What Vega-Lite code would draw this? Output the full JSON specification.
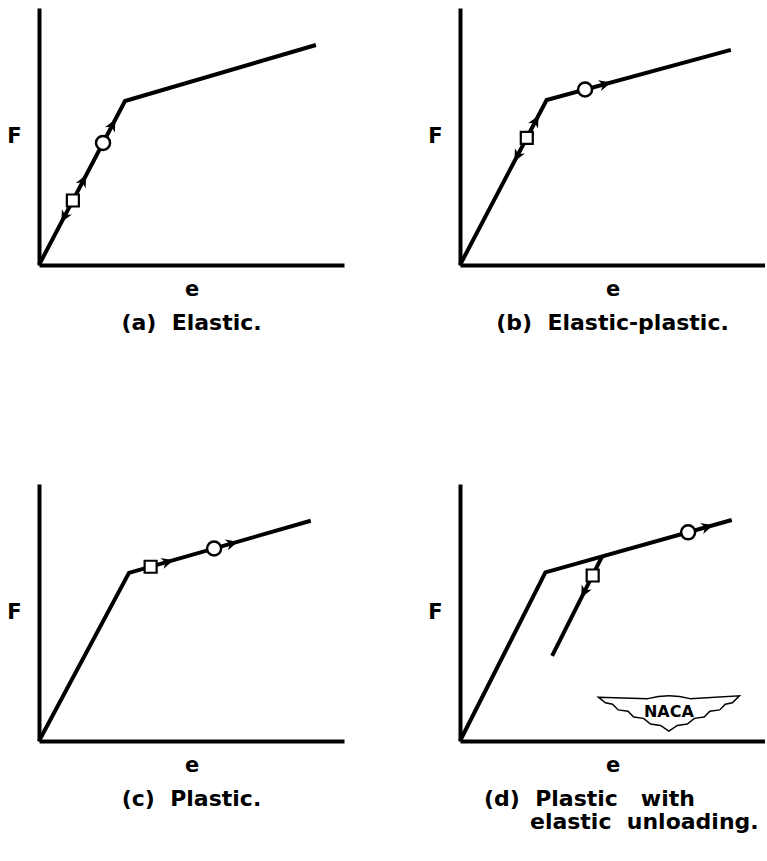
{
  "$schema": "https://vega.github.io/schema/vega-lite/v6.json",
  "background": "white",
  "padding": {"left": 6, "top": 8, "right": 0, "bottom": 5},
  "config": {
    "view": {"stroke": null},
    "axis": {"domainColor": "black", "domainWidth": 4, "ticks": false, "labels": false, "grid": false, "titleFont": "DejaVu Sans", "titleFontSize": 21, "titleFontWeight": "bold", "titleColor": "black"},
    "axisY": {"titleAngle": 0, "titleAlign": "right", "titleBaseline": "middle", "titlePadding": 18},
    "axisX": {"titleBaseline": "alphabetic", "titlePadding": 30},
    "title": {"orient": "bottom", "frame": "group", "anchor": "middle", "font": "DejaVu Sans", "fontSize": 22, "fontWeight": "bold", "color": "black", "offset": 14, "lineHeight": 23}
  },
  "spacing": 150,
  "vconcat": [
    {
      "spacing": 83,
      "hconcat": [
        {
          "width": 305, "height": 257,
          "title": {"text": "(a)\u00a0 Elastic."},
          "data": {"values": [
            {"kind": "path", "e": 0, "F": 0},
            {"kind": "path", "e": 28.2, "F": 63.8},
            {"kind": "path", "e": 90.8, "F": 85.6},
            {"kind": "circle", "e": 21.0, "F": 47.5},
            {"kind": "square", "e": 11.1, "F": 25.1},
            {"kind": "load", "e": 24.0, "F": 54.3},
            {"kind": "load", "e": 14.4, "F": 32.6},
            {"kind": "unload", "e": 8.4, "F": 19.0}
          ]},
          "encoding": {
            "x": {"field": "e", "type": "quantitative", "scale": {"domain": [0, 100], "nice": false}, "axis": {"title": "e"}},
            "y": {"field": "F", "type": "quantitative", "scale": {"domain": [0, 100], "nice": false}, "axis": {"title": "F"}}
          },
          "layer": [
            {"transform": [{"filter": "datum.kind === 'path'"}], "mark": {"type": "line", "color": "black", "strokeWidth": 4}},
            {"transform": [{"filter": "datum.kind === 'load'"}], "mark": {"type": "point", "shape": "M0,-1L0.8,0.7L0,0.2L-0.8,0.7Z", "filled": true, "color": "black", "opacity": 1, "size": 196, "angle": 27.7}},
            {"transform": [{"filter": "datum.kind === 'unload'"}], "mark": {"type": "point", "shape": "M0,-1L0.8,0.7L0,0.2L-0.8,0.7Z", "filled": true, "color": "black", "opacity": 1, "size": 196, "angle": 207.7}},
            {"transform": [{"filter": "datum.kind === 'circle'"}], "mark": {"type": "point", "shape": "circle", "fill": "white", "stroke": "black", "strokeWidth": 2.5, "opacity": 1, "size": 196}},
            {"transform": [{"filter": "datum.kind === 'square'"}], "mark": {"type": "point", "shape": "square", "fill": "white", "stroke": "black", "strokeWidth": 2.2, "opacity": 1, "size": 144}}
          ]
        },
        {
          "width": 305, "height": 257,
          "title": {"text": "(b)\u00a0 Elastic-plastic."},
          "data": {"values": [
            {"kind": "path", "e": 0, "F": 0},
            {"kind": "path", "e": 28.4, "F": 64.2},
            {"kind": "path", "e": 88.8, "F": 83.7},
            {"kind": "circle", "e": 41.0, "F": 68.3},
            {"kind": "square", "e": 21.9, "F": 49.5},
            {"kind": "load", "e": 24.7, "F": 55.8},
            {"kind": "unload", "e": 18.9, "F": 42.7},
            {"kind": "plastic", "e": 47.3, "F": 70.3}
          ]},
          "encoding": {
            "x": {"field": "e", "type": "quantitative", "scale": {"domain": [0, 100], "nice": false}, "axis": {"title": "e"}},
            "y": {"field": "F", "type": "quantitative", "scale": {"domain": [0, 100], "nice": false}, "axis": {"title": "F"}}
          },
          "layer": [
            {"transform": [{"filter": "datum.kind === 'path'"}], "mark": {"type": "line", "color": "black", "strokeWidth": 4}},
            {"transform": [{"filter": "datum.kind === 'load'"}], "mark": {"type": "point", "shape": "M0,-1L0.8,0.7L0,0.2L-0.8,0.7Z", "filled": true, "color": "black", "opacity": 1, "size": 196, "angle": 27.7}},
            {"transform": [{"filter": "datum.kind === 'unload'"}], "mark": {"type": "point", "shape": "M0,-1L0.8,0.7L0,0.2L-0.8,0.7Z", "filled": true, "color": "black", "opacity": 1, "size": 196, "angle": 207.7}},
            {"transform": [{"filter": "datum.kind === 'plastic'"}], "mark": {"type": "point", "shape": "M0,-1L0.8,0.7L0,0.2L-0.8,0.7Z", "filled": true, "color": "black", "opacity": 1, "size": 196, "angle": 74.8}},
            {"transform": [{"filter": "datum.kind === 'circle'"}], "mark": {"type": "point", "shape": "circle", "fill": "white", "stroke": "black", "strokeWidth": 2.5, "opacity": 1, "size": 196}},
            {"transform": [{"filter": "datum.kind === 'square'"}], "mark": {"type": "point", "shape": "square", "fill": "white", "stroke": "black", "strokeWidth": 2.2, "opacity": 1, "size": 144}}
          ]
        }
      ]
    },
    {
      "spacing": 83,
      "hconcat": [
        {
          "width": 305, "height": 257,
          "title": {"text": "(c)\u00a0 Plastic."},
          "data": {"values": [
            {"kind": "path", "e": 0, "F": 0},
            {"kind": "path", "e": 29.5, "F": 65.4},
            {"kind": "path", "e": 89.1, "F": 85.7},
            {"kind": "square", "e": 36.6, "F": 67.8},
            {"kind": "circle", "e": 57.4, "F": 74.9},
            {"kind": "plastic", "e": 41.9, "F": 69.6},
            {"kind": "plastic", "e": 63.0, "F": 76.8}
          ]},
          "encoding": {
            "x": {"field": "e", "type": "quantitative", "scale": {"domain": [0, 100], "nice": false}, "axis": {"title": "e"}},
            "y": {"field": "F", "type": "quantitative", "scale": {"domain": [0, 100], "nice": false}, "axis": {"title": "F"}}
          },
          "layer": [
            {"transform": [{"filter": "datum.kind === 'path'"}], "mark": {"type": "line", "color": "black", "strokeWidth": 4}},
            {"transform": [{"filter": "datum.kind === 'plastic'"}], "mark": {"type": "point", "shape": "M0,-1L0.8,0.7L0,0.2L-0.8,0.7Z", "filled": true, "color": "black", "opacity": 1, "size": 196, "angle": 74.0}},
            {"transform": [{"filter": "datum.kind === 'circle'"}], "mark": {"type": "point", "shape": "circle", "fill": "white", "stroke": "black", "strokeWidth": 2.5, "opacity": 1, "size": 196}},
            {"transform": [{"filter": "datum.kind === 'square'"}], "mark": {"type": "point", "shape": "square", "fill": "white", "stroke": "black", "strokeWidth": 2.2, "opacity": 1, "size": 144}}
          ]
        },
        {
          "width": 305, "height": 257,
          "title": {"text": ["(d)\u00a0 Plastic\u00a0\u00a0 with", "\u200b\u00a0\u00a0\u00a0\u00a0\u00a0\u00a0elastic\u00a0 unloading."], "anchor": "start", "dx": 24},
          "data": {"values": [
            {"kind": "path", "e": 0, "F": 0},
            {"kind": "path", "e": 28.0, "F": 65.6},
            {"kind": "path", "e": 89.1, "F": 86.0},
            {"kind": "circle", "e": 74.8, "F": 81.2},
            {"kind": "plastic", "e": 80.8, "F": 83.2},
            {"kind": "unloadline", "e": 46.6, "F": 71.8},
            {"kind": "unloadline", "e": 30.2, "F": 33.1},
            {"kind": "square", "e": 43.5, "F": 64.4},
            {"kind": "unload", "e": 40.8, "F": 58.2},
            {"kind": "logo", "e": 68.5, "F": 11.0, "label": "NACA"}
          ]},
          "encoding": {
            "x": {"field": "e", "type": "quantitative", "scale": {"domain": [0, 100], "nice": false}, "axis": {"title": "e"}},
            "y": {"field": "F", "type": "quantitative", "scale": {"domain": [0, 100], "nice": false}, "axis": {"title": "F"}}
          },
          "layer": [
            {"transform": [{"filter": "datum.kind === 'path'"}], "mark": {"type": "line", "color": "black", "strokeWidth": 4}},
            {"transform": [{"filter": "datum.kind === 'unloadline'"}], "mark": {"type": "line", "color": "black", "strokeWidth": 4}},
            {"transform": [{"filter": "datum.kind === 'plastic'"}], "mark": {"type": "point", "shape": "M0,-1L0.8,0.7L0,0.2L-0.8,0.7Z", "filled": true, "color": "black", "opacity": 1, "size": 196, "angle": 74.5}},
            {"transform": [{"filter": "datum.kind === 'unload'"}], "mark": {"type": "point", "shape": "M0,-1L0.8,0.7L0,0.2L-0.8,0.7Z", "filled": true, "color": "black", "opacity": 1, "size": 196, "angle": 206.8}},
            {"transform": [{"filter": "datum.kind === 'circle'"}], "mark": {"type": "point", "shape": "circle", "fill": "white", "stroke": "black", "strokeWidth": 2.5, "opacity": 1, "size": 196}},
            {"transform": [{"filter": "datum.kind === 'square'"}], "mark": {"type": "point", "shape": "square", "fill": "white", "stroke": "black", "strokeWidth": 2.2, "opacity": 1, "size": 144}},
            {"transform": [{"filter": "datum.kind === 'logo'"}], "mark": {"type": "point", "shape": "M-1,-0.22L-0.3,-0.2Q0,-0.28 0.3,-0.2L1,-0.24L0.9,-0.14L0.8,-0.12L0.72,-0.04L0.58,-0.02L0.5,0.06L0.36,0.08L0.26,0.16L0.12,0.18L0,0.26L-0.12,0.18L-0.26,0.16L-0.36,0.08L-0.5,0.06L-0.58,-0.02L-0.72,-0.04L-0.8,-0.12L-0.9,-0.14Z", "fill": "white", "stroke": "black", "strokeWidth": 1.5, "opacity": 1, "size": 19881}},
            {"transform": [{"filter": "datum.kind === 'logo'"}], "mark": {"type": "text", "font": "DejaVu Sans", "fontSize": 16, "fontWeight": "bold", "color": "black", "baseline": "middle", "align": "center", "dy": -1}, "encoding": {"text": {"field": "label", "type": "nominal"}}}
          ]
        }
      ]
    }
  ]
}
